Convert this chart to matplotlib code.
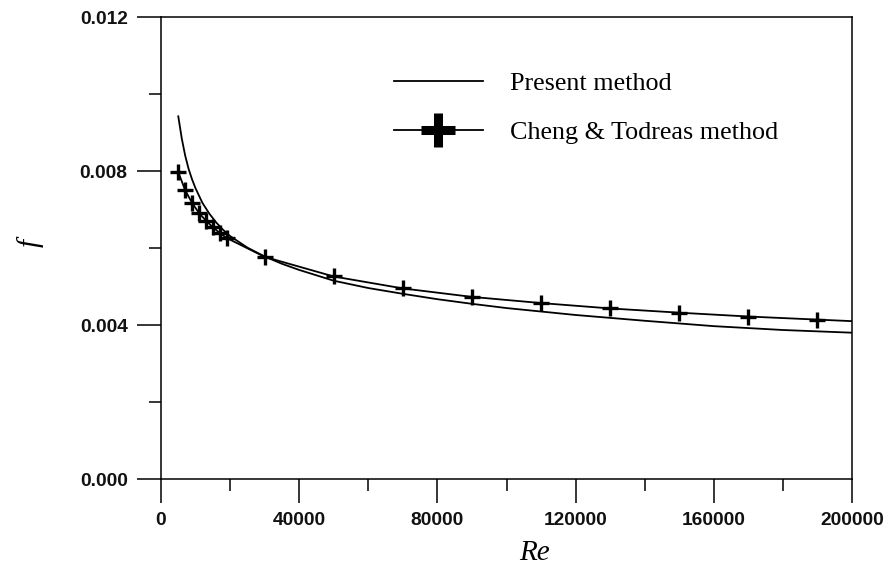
import matplotlib
matplotlib.use("Agg")
import matplotlib.pyplot as plt
from matplotlib.lines import Line2D
from matplotlib.ticker import MultipleLocator, FixedLocator

# Present method curve (Re, f)
re_present = [5000, 6000, 7000, 8000, 9000, 10000, 12000, 14000, 16000, 18000,
              20000, 25000, 30000, 35000, 40000, 50000, 60000, 70000, 80000,
              90000, 100000, 120000, 140000, 160000, 180000, 200000]
f_present = [0.00942, 0.00885, 0.00840, 0.00805, 0.00778, 0.00755, 0.00717,
             0.00689, 0.00666, 0.00647, 0.00631, 0.00601, 0.00578, 0.00559,
             0.00543, 0.00515, 0.00496, 0.00481, 0.00467, 0.00455, 0.00444,
             0.00426, 0.00411, 0.00397, 0.00387, 0.00380]

# Cheng & Todreas curve (line) and markers
re_ct_line = [5000, 7000, 9000, 11000, 13000, 15000, 17000, 19000, 30000,
              50000, 70000, 90000, 110000, 130000, 150000, 170000, 190000, 200000]
f_ct_line = [0.00797, 0.00750, 0.00717, 0.00691, 0.00671, 0.00654, 0.00639,
             0.00626, 0.00577, 0.00526, 0.00495, 0.00473, 0.00457, 0.00443,
             0.00432, 0.00422, 0.00414, 0.00410]
re_ct_mark = [5000, 7000, 9000, 11000, 13000, 15000, 17000, 19000, 30000,
              50000, 70000, 90000, 110000, 130000, 150000, 170000, 190000]
f_ct_mark = [0.00797, 0.00750, 0.00717, 0.00691, 0.00671, 0.00654, 0.00639,
             0.00626, 0.00577, 0.00526, 0.00495, 0.00473, 0.00457, 0.00443,
             0.00432, 0.00422, 0.00414]

x_ticks = [0, 40000, 80000, 120000, 160000, 200000]
x_ticklabels = ["0", "40000", "80000", "120000", "160000", "200000"]
y_ticks = [0.000, 0.004, 0.008, 0.012]
y_ticklabels = ["0.000", "0.004", "0.008", "0.012"]

legend_labels = ["Present method", "Cheng & Todreas method"]

fig = plt.figure(figsize=(8.93, 5.71), dpi=100)
ax = fig.add_axes([161/893, 1 - 479/571, (852 - 161)/893, (479 - 17)/571])

ax.plot(re_present, f_present, color="black", lw=1.3)
ax.plot(re_ct_line, f_ct_line, color="black", lw=1.3)
ax.plot(re_ct_mark, f_ct_mark, ls="none", marker="+", color="black",
        markersize=11, markeredgewidth=2.4)

ax.set_xlim(0, 200000)
ax.set_ylim(0, 0.012)
ax.xaxis.set_major_locator(FixedLocator(x_ticks))
ax.set_xticklabels(x_ticklabels)
ax.xaxis.set_minor_locator(MultipleLocator(20000))
ax.yaxis.set_major_locator(FixedLocator(y_ticks))
ax.set_yticklabels(y_ticklabels)
ax.yaxis.set_minor_locator(MultipleLocator(0.002))

ax.tick_params(which="both", direction="out", top=False, right=False, width=1.1,
               color="black")
ax.tick_params(which="major", length=17, pad=7)
ax.tick_params(which="minor", length=8.5)
for lab in ax.get_xticklabels() + ax.get_yticklabels():
    lab.set_fontfamily("Liberation Sans")
    lab.set_fontweight("bold")
    lab.set_fontsize(13.8)
    lab.set_color("#111111")
for sp in ax.spines.values():
    sp.set_linewidth(1.1)

ax.set_xlabel("Re", fontfamily="Liberation Serif", fontstyle="italic",
              fontsize=21, va="center")
ax.xaxis.set_label_coords((534 - 161) / 691, (479 - 553) / 462)
ax.set_ylabel("f", fontfamily="Liberation Serif", fontstyle="italic",
              fontsize=21, va="center")
ax.yaxis.set_label_coords((30 - 161) / 691, (479 - 243) / 462)

h1 = Line2D([], [], color="black", lw=1.3)
h2 = Line2D([], [], color="black", lw=1.3, marker="+", markersize=24,
            markeredgewidth=6.5)
leg = ax.legend([h1, h2], legend_labels, loc="upper left",
                bbox_to_anchor=((370 - 161) / 691, (479 - 48) / 462),
                frameon=False, handlelength=3.41, handletextpad=1.07,
                labelspacing=1.0, numpoints=1,
                prop={"family": "Liberation Serif", "size": 18.8})

fig.savefig("out.png", dpi=100)
